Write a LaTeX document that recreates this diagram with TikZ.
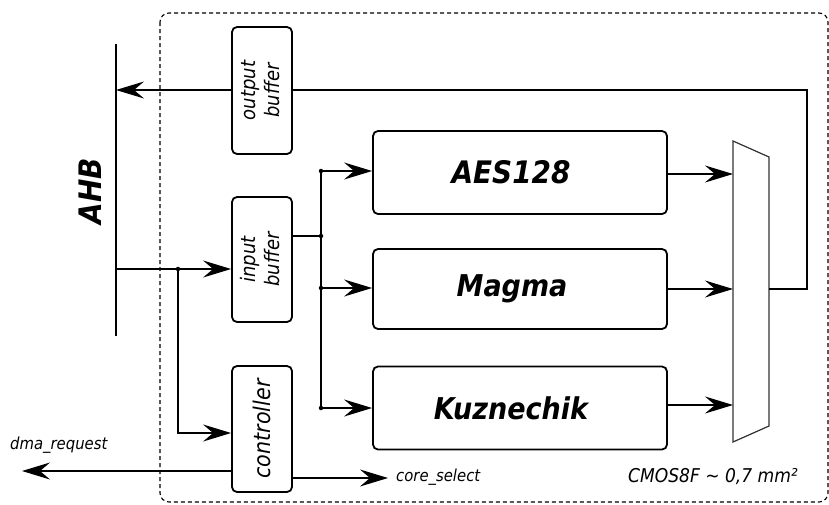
\documentclass[tikz,border=0pt]{standalone}
\usepackage{fontspec}
\setmainfont{DejaVu Sans Condensed}
\usetikzlibrary{arrows.meta}
\tikzset{
  blk/.style={draw, line width=1.8pt, rounded corners=5pt, inner sep=0pt},
  vbuf/.style={blk, minimum width=60pt, align=center, font=\fontsize{20}{25}\selectfont\itshape},
  core/.style={blk, minimum width=294pt, font=\fontsize{31}{34}\selectfont\bfseries\itshape},
  conn/.style={line width=1.2pt},
  arr/.style={conn, -{Stealth[length=28pt,width=17pt,inset=10pt]}},
  lbl/.style={font=\fontsize{16.5}{18}\selectfont\itshape, inner sep=0pt},
  dot/.style={circle, fill, inner sep=0pt, minimum size=4.5pt}
}
\begin{document}
\begin{tikzpicture}[x=1pt,y=-1pt]
\useasboundingbox (0,0) rectangle (829,504);
% enclosure
\draw[line width=1.1pt, dash pattern=on 4pt off 3pt, rounded corners=9pt] (160,13) rectangle (828,502);
% AHB bus
\coordinate (ahbtop) at (116,44);
\coordinate (ahbbot) at (116,336);
\draw[conn] (ahbtop) -- (ahbbot);
\node[rotate=90, font=\fontsize{31}{32}\selectfont\bfseries\itshape] (ahb) at (90,191) {AHB};
% buffers and controller
\node[vbuf, minimum height=127pt] (outbuf) at (262,90.5) {\rotatebox{90}{\begin{tabular}{@{}c@{}}output\\[-1pt]buffer\end{tabular}}};
\node[vbuf, minimum height=125pt] (inbuf) at (262,259.5) {\rotatebox{90}{\begin{tabular}{@{}c@{}}input\\[-1pt]buffer\end{tabular}}};
\node[vbuf, minimum height=126pt, font=\fontsize{23}{26}\selectfont\itshape] (ctrl) at (262,429) {\rotatebox{90}{controller}};
% cores
\node[core, minimum height=83pt] (aes) at (520,172.5) {AES128\hspace*{18pt}};
\node[core, minimum height=80pt, font=\fontsize{30}{32}\selectfont\bfseries\itshape] (magma) at (520,289) {Magma\hspace*{16pt}};
\node[core, minimum height=83pt, font=\fontsize{30}{32}\selectfont\bfseries\itshape] (kuz) at (520,408) {Kuznechik\hspace*{18pt}};
% mux
\coordinate (m1) at (733,141);
\coordinate (m2) at (769,157);
\coordinate (m3) at (769,426);
\coordinate (m4) at (733,442);
\draw[line width=1.2pt, draw=black!80] (m1) -- (m2) -- (m3) -- (m4) -- cycle;
\coordinate (maes) at (733,174);
\coordinate (mmag) at (733,289);
\coordinate (mkuz) at (733,405);
\coordinate (mout) at (769,289);
\draw[arr] (aes.east |- maes) -- (maes);
\draw[arr] (magma.east |- mmag) -- (mmag);
\draw[arr] (kuz.east |- mkuz) -- (mkuz);
% output loop
\coordinate (lp1) at (807,289);
\coordinate (lp2) at (807,90);
\draw[conn] (mout) -- (lp1) -- (lp2) -- (outbuf.east |- lp2);
\coordinate (ahbout) at (116,90);
\draw[arr] (outbuf.west |- lp2) -- (ahbout);
% input from AHB
\coordinate (ahbin) at (116,269);
\node[dot] (d1) at (178,269) {};
\draw[arr] (ahbin) -- (inbuf.west |- ahbin);
\coordinate (cin) at (178,433);
\draw[arr] (d1.center) -- (cin) -- (ctrl.west |- cin);
% distribution bus
\node[dot] (b0) at (321,171) {};
\node[dot] (b1) at (321,236) {};
\node[dot] (b2) at (321,288) {};
\node[dot] (b3) at (321,408) {};
\draw[conn] (inbuf.east |- b1) -- (b1.center);
\draw[conn] (b0.center) -- (b3.center);
\draw[arr] (b0.center) -- (aes.west |- b0);
\draw[arr] (b2.center) -- (magma.west |- b2);
\draw[arr] (b3.center) -- (kuz.west |- b3);
% controller outputs
\coordinate (dma) at (22,471);
\coordinate (cs) at (388,478);
\draw[arr] (ctrl.west |- dma) -- (dma);
\draw[arr] (ctrl.east |- cs) -- (cs);
\node[lbl, anchor=west] (dmal) at (10,445) {dma\_request};
\node[lbl, anchor=west] (csl) at (396,477) {core\_select};
\node[lbl, anchor=east, font=\fontsize{19}{20}\selectfont\itshape] (cmos) at (798,477) {CMOS8F ∼ 0,7 mm²};
\end{tikzpicture}
\end{document}
